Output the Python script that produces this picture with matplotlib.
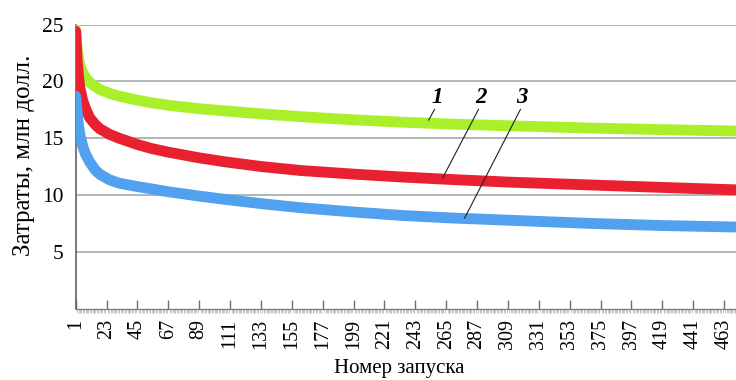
import matplotlib
matplotlib.use("Agg")
import matplotlib.pyplot as plt
from matplotlib.ticker import FixedLocator, MultipleLocator

# Launch numbers at which the cost curves are sampled
launches = [1, 2, 3, 4, 6, 8, 11, 15, 18, 25, 32, 45, 55, 67, 89, 108,
            133, 161, 199, 233, 268, 309, 367, 419, 471]

# Costs, million dollars
cost_1 = [24.5, 22.9, 22.0, 21.4, 20.75, 20.35, 19.9, 19.55, 19.3, 18.95,
          18.7, 18.35, 18.12, 17.9, 17.6, 17.4, 17.15, 16.9, 16.62, 16.42,
          16.25, 16.1, 15.9, 15.76, 15.64]
cost_2 = [24.4, 21.8, 20.4, 19.4, 18.3, 17.6, 16.8, 16.2, 15.85, 15.35, 15.0,
          14.45, 14.1, 13.78, 13.28, 12.92, 12.52, 12.17, 11.85, 11.6, 11.38,
          11.15, 10.9, 10.68, 10.47]
cost_3 = [18.7, 17.3, 16.1, 15.3, 14.3, 13.6, 12.9, 12.2, 11.85, 11.35, 11.05,
          10.75, 10.55, 10.3, 9.92, 9.62, 9.26, 8.9, 8.52, 8.22, 8.0, 7.8,
          7.52, 7.33, 7.2]

tick_labels = list(range(1, 464, 22))
y_ticks = [5, 10, 15, 20, 25]

colors = ["#a9ef2a", "#e8202f", "#52a0f0"]
serif = "Liberation Serif"

fig = plt.figure(figsize=(7.36, 3.80), dpi=100)
ax = fig.add_axes([0.1029, 0.187, 0.8971, 0.7485])

for ys, c in zip([cost_1, cost_2, cost_3], colors):
    ax.plot(launches, ys, color=c, lw=7.8, solid_capstyle="round",
            solid_joinstyle="round", zorder=3)

ax.set_xlim(1, 471.5)
ax.set_ylim(0, 25)

# Horizontal grid
ax.set_yticks(y_ticks)
ax.yaxis.grid(True, color="#a9b1b1", lw=1.3)
ax.set_axisbelow(True)
ax.tick_params(axis="y", length=0, pad=9, labelsize=15.5)

# Category axis: labelled major ticks every 22 launches, minor tick per launch
ax.xaxis.set_major_locator(FixedLocator(tick_labels))
ax.xaxis.set_minor_locator(MultipleLocator(1))
ax.set_xticklabels([str(t) for t in tick_labels], rotation=90)
ax.tick_params(axis="x", which="major", direction="in", length=6.5, width=1,
               color="#707070", pad=7, labelsize=14.5)
ax.tick_params(axis="x", which="minor", direction="out", length=3, width=0.5,
               color="#b0b0b0")

for lab in ax.get_xticklabels() + ax.get_yticklabels():
    lab.set_fontfamily(serif)

for side in ("top", "right"):
    ax.spines[side].set_visible(False)
ax.spines["left"].set_color("#606060")
ax.spines["left"].set_linewidth(1.2)
ax.spines["bottom"].set_color("#808080")
ax.spines["bottom"].set_linewidth(1.0)

ax.set_xlabel("Номер запуска", fontfamily=serif, fontsize=15)
ax.xaxis.set_label_coords(0.49, -0.243)
ax.xaxis.label.set_va("bottom")
ax.set_ylabel("Затраты, млн долл.", fontfamily=serif, fontsize=18)
ax.yaxis.set_label_coords(-0.0614, 0.54)

# Curve labels with leader lines
label_font = dict(fontfamily=serif, fontsize=16.5, fontweight="bold",
                  fontstyle="italic", ha="center", va="center")
marks = [("1", (258.9, 18.6), (256.7, 17.54), (252.5, 16.6)),
         ("2", (290.1, 18.6), (288.0, 17.54), (262.4, 11.5)),
         ("3", (319.3, 18.6), (317.9, 17.54), (278.1, 7.98))]
for txt, pos, start, end in marks:
    ax.text(pos[0], pos[1], txt, zorder=5, **label_font)
    ax.plot([start[0], end[0]], [start[1], end[1]], color="#202020", lw=0.8,
            zorder=5)

fig.savefig("out.png", dpi=100)
